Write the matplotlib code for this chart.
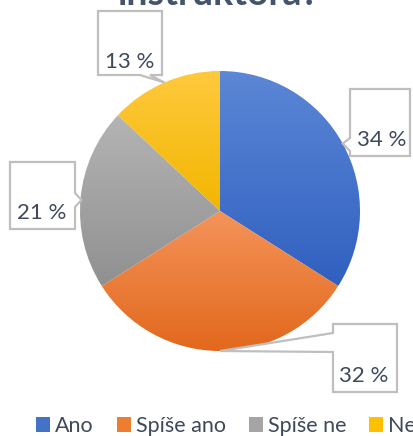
import numpy as np
import matplotlib
matplotlib.use("Agg")
import matplotlib.pyplot as plt
from matplotlib.patches import Polygon, Patch
from matplotlib.colors import LinearSegmentedColormap

plt.rcParams['font.family'] = ['Lato', 'DejaVu Sans']

# data
labels = ["Ano", "Spíše ano", "Spíše ne", "Ne"]
values = [34, 32, 21, 13]
pct_labels = ["34 %", "32 %", "21 %", "13 %"]
title = "instruktora?"

# gradient colours (top, bottom) and flat legend colours
grad_top = ["#5C87D6", "#F4945A", "#B4B4B4", "#FFC93E"]
grad_bot = ["#3060C0", "#E2681C", "#909090", "#F2B600"]
flat = ["#4472C4", "#ED7D31", "#A5A5A5", "#FFC000"]
text_col = "#3E495B"

W, H = 414, 436
fig = plt.figure(figsize=(W / 100, H / 100), dpi=100)
ax = fig.add_axes([0, 0, 1, 1])

cx, cy, r = 220, H - 211, 140
wedges, _ = ax.pie(values, colors=flat, startangle=90, counterclock=False,
                   center=(cx, cy), radius=r, wedgeprops=dict(linewidth=0))
ax.set_aspect('equal', adjustable='box')
ax.axis('off')

# vertical gradient inside each wedge
for w, c0, c1 in zip(wedges, grad_top, grad_bot):
    verts = w.get_patch_transform().transform(w.get_path().vertices)
    x0, y0 = verts.min(axis=0)
    x1, y1 = verts.max(axis=0)
    cmap = LinearSegmentedColormap.from_list("g", [c1, c0])
    grad = np.linspace(0, 1, 256).reshape(-1, 1)
    im = ax.imshow(grad, cmap=cmap, origin='lower', aspect='auto',
                   extent=(x0, x1, y0, y1), zorder=w.get_zorder() + 0.1)
    im.set_clip_path(w)
    w.set_facecolor('none')
ax.set_xlim(0, W)
ax.set_ylim(0, H)


def py(y):
    return H - y


def callout(box, side, base, tip, text, txy):
    x0, y0, x1, y1 = box
    tx, ty = tip
    if side == "left":
        pts = [(x0, y0), (x1, y0), (x1, y1), (x0, y1), (x0, base[1]), (tx, ty), (x0, base[0])]
    elif side == "right":
        pts = [(x0, y0), (x1, y0), (x1, base[0]), (tx, ty), (x1, base[1]), (x1, y1), (x0, y1)]
    else:  # bottom
        pts = [(x0, y0), (x1, y0), (x1, y1), (base[1], y1), (tx, ty), (base[0], y1), (x0, y1)]
    pts = [(x, py(y)) for x, y in pts]
    ax.add_patch(Polygon(pts, closed=True, facecolor="white", edgecolor="#BFBFBF",
                         linewidth=1.6, zorder=5, joinstyle='miter'))
    ax.text(txy[0], py(txy[1]), text, ha='center', va='baseline', fontsize=16,
            color=text_col, zorder=6)


# callout layout: box, side of pointer, pointer base, text position, leader straight across?
layout = [
    ((350, 89, 410, 156), "left", (138, 151), (382, 146), False),
    ((333, 324, 397, 392), "left", (333, 352), (364, 382), False),
    ((10, 162, 75, 229), "right", (193, 207), (42, 219), True),
    ((98, 11, 162, 75), "bottom", (140, 150), (130, 68), False),
]
for w, txt, (box, side, base, txy, straight) in zip(wedges, pct_labels, layout):
    if straight:
        # leader runs horizontally to the pie edge
        ty = (base[0] + base[1]) / 2
        dy = py(ty) - cy
        tip = (cx - np.sqrt(r ** 2 - dy ** 2) + 1, ty)
    else:
        mid = np.deg2rad((w.theta1 + w.theta2) / 2)
        tip = (cx + r * np.cos(mid), py(cy + r * np.sin(mid)))
    callout(box, side, base, tip, txt, txy)

# title (clipped at the top like the original)
ax.text(218, py(5), title, ha='center', va='baseline', fontsize=27,
        fontweight='bold', color="#44546A")

handles = [Patch(facecolor=c, edgecolor='none') for c in flat]
ax.legend(handles, labels, loc='center left', bbox_to_anchor=(36 / W, 10 / H),
          ncol=4, frameon=False, fontsize=15.5, handlelength=0.65, handleheight=0.65,
          handletextpad=0.25, columnspacing=1.05, borderpad=0, borderaxespad=0,
          labelcolor=text_col)

fig.savefig("out.png", dpi=100)
